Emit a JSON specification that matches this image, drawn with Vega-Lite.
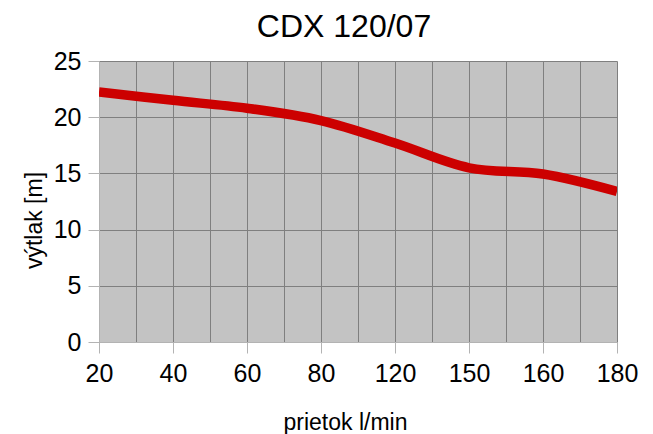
{
  "$schema": "https://vega.github.io/schema/vega-lite/v6.json",
  "width": 518,
  "height": 281,
  "autosize": "none",
  "padding": {"left": 99, "top": 61, "right": 36, "bottom": 92},
  "background": "white",
  "title": {
    "text": "CDX 120/07",
    "font": "Liberation Sans",
    "fontSize": 32,
    "fontWeight": "normal",
    "color": "black",
    "anchor": "middle",
    "dx": -14,
    "offset": 5
  },
  "config": {
    "view": {"fill": "#c3c3c3", "stroke": null},
    "axis": {
      "labelFont": "Liberation Sans",
      "titleFont": "Liberation Sans",
      "labelColor": "black",
      "titleColor": "black",
      "titleFontWeight": "normal"
    }
  },
  "data": {
    "values": [
      {"pos": 0, "prietok": 20, "vytlak": 22.25},
      {"pos": 1, "prietok": 40, "vytlak": 21.5},
      {"pos": 2, "prietok": 60, "vytlak": 20.8},
      {"pos": 3, "prietok": 80, "vytlak": 19.7},
      {"pos": 4, "prietok": 120, "vytlak": 17.7},
      {"pos": 5, "prietok": 150, "vytlak": 15.5},
      {"pos": 6, "prietok": 160, "vytlak": 14.95},
      {"pos": 7, "prietok": 180, "vytlak": 13.4}
    ]
  },
  "mark": {"type": "line", "color": "#cc0000", "strokeWidth": 9.5, "interpolate": "catmull-rom", "clip": true},
  "encoding": {
    "x": {
      "field": "pos",
      "type": "quantitative",
      "scale": {"domain": [0, 7], "nice": false, "zero": false},
      "axis": {
        "title": "prietok l/min",
        "titleFontSize": 23,
        "titlePadding": 25,
        "titleX": 246,
        "titleAlign": "center",
        "values": [0, 0.5, 1, 1.5, 2, 2.5, 3, 3.5, 4, 4.5, 5, 5.5, 6, 6.5, 7],
        "labelExpr": "datum.value % 1 === 0 ? ['20','40','60','80','120','150','160','180'][datum.value] : ''",
        "labelFontSize": 25,
        "labelPadding": 8,
        "labelOverlap": false,
        "labelFlush": false,
        "grid": true,
        "gridColor": "#7f7f7f",
        "gridWidth": 1,
        "gridOpacity": 1,
        "domainColor": "#b3b3b3",
        "tickColor": "#b3b3b3",
        "tickSize": 11,
        "tickOpacity": {"condition": {"test": "datum.value % 1 === 0", "value": 1}, "value": 0}
      }
    },
    "y": {
      "field": "vytlak",
      "type": "quantitative",
      "scale": {"domain": [0, 25], "nice": false},
      "axis": {
        "title": "výtlak [m]",
        "titleFontSize": 23,
        "titleAngle": -90,
        "titleAlign": "center",
        "titleBaseline": "alphabetic",
        "titleX": -58,
        "titleY": 159,
        "values": [0, 5, 10, 15, 20, 25],
        "labelFontSize": 25,
        "labelPadding": 7,
        "grid": true,
        "gridColor": "#7f7f7f",
        "gridWidth": 1,
        "gridOpacity": 1,
        "domainColor": "#b3b3b3",
        "tickColor": "#b3b3b3",
        "tickSize": 11
      }
    }
  }
}
